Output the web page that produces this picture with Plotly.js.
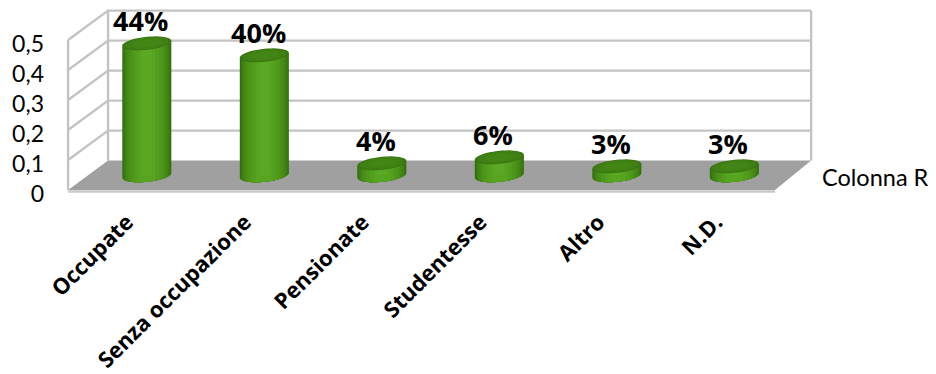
<!DOCTYPE html>
<html>
<head>
<meta charset="utf-8">
<script src="https://cdn.plot.ly/plotly-3.0.1.min.js"></script>
<style>html,body{margin:0;padding:0;background:#fff}</style>
</head>
<body>
<div id="chart" style="width:936px;height:374px"></div>
<script>
// Occupational status shares
const categories = ['Occupate', 'Senza occupazione', 'Pensionate', 'Studentesse', 'Altro', 'N.D.'];
const shares = [0.44, 0.40, 0.04, 0.06, 0.03, 0.03];
const valueTicks = [0, 0.1, 0.2, 0.3, 0.4, 0.5];
const seriesName = 'Colonna R';

// Oblique box: the front plane uses the axes directly, the back plane is
// offset sideways and lifted by a fixed amount.
const LIFT = 0.098, BACK_SHIFT = 0.3362, BACK_SCALE = 0.9944;
const U0 = -0.5, U1 = 5.5, TOP = 0.5;
const RX = 0.208, RY = 0.0217, TILT = 0.008;
const GRID = '#c3c3c3', FLOOR = '#a0a0a0';

function project(u, v, depth) {
  const back = BACK_SHIFT + BACK_SCALE * u;
  return [u + (back - u) * depth, v + LIFT * depth];
}
function pathOf(points, close) {
  return points.map((p, i) => (i ? 'L' : 'M') + p[0].toFixed(4) + ',' + p[1].toFixed(4)).join(' ') + (close ? ' Z' : '');
}
function polygon(points, fill) {
  return {type: 'path', xref: 'x', yref: 'y', layer: 'below', path: pathOf(points, true),
          fillcolor: fill, line: {width: 0}};
}
function rule(points, width, color) {
  return {type: 'path', xref: 'x', yref: 'y', layer: 'below', path: pathOf(points, false),
          line: {color: color || GRID, width: width || 2.4}};
}

const shapes = [];

// Floor with its lighter front edge
shapes.push(polygon([project(U0, 0, 0), project(U1, 0, 0), project(U1, 0, 1), project(U0, 0, 1)], FLOOR));
shapes.push(rule([[U0, -0.005], [U1, -0.005]], 2.6, '#c9c9c9'));

// Gridlines over the side and back walls
valueTicks.forEach(v => {
  if (v > 0) shapes.push(rule([project(U0, v, 0), project(U0, v, 1), project(U1, v, 1)]));
});
shapes.push(rule([project(U0, 0, 0), project(U0, TOP, 0)]));
shapes.push(rule([project(U0, 0, 1), project(U0, TOP, 1)]));
shapes.push(rule([project(U1, 0, 1), project(U1, TOP, 1)]));

// Cylinders: nested outlines running from the dark rim to the lit centre
const bodyShades = [[1, '#2f6c0c'], [0.97, '#36760f'], [0.92, '#3d7f12'], [0.85, '#438715'],
                    [0.76, '#498f18'], [0.65, '#4e971b'], [0.5, '#539e1e'], [0.34, '#57a421']];
const capShades = [[1, '#38750f'], [0.9, '#3f7f13'], [0.6, '#448616']];
const centres = shares.map((s, i) => project(i, 0, 0.5));

function ellipse(cx, cy, scale) {
  const pts = [];
  for (let k = 0; k < 48; k++) {
    const t = k / 48 * 2 * Math.PI;
    pts.push([cx + RX * scale * Math.cos(t), cy + RY * scale * Math.sin(t) + TILT * scale * Math.cos(t)]);
  }
  return pts;
}
function body(cx, baseY, topY, f) {
  const a = Math.acos(f), start = Math.PI + a, end = 2 * Math.PI - a, lower = [];
  for (let k = 0; k <= 24; k++) {
    const t = start + (end - start) * k / 24;
    lower.push([cx + RX * Math.cos(t), baseY + RY * Math.sin(t) + TILT * Math.cos(t)]);
  }
  return lower.concat([[cx + RX * f, topY + TILT * f], [cx - RX * f, topY - TILT * f]]);
}

shares.forEach((s, i) => {
  const [cx, baseY] = centres[i];
  bodyShades.forEach(([f, c]) => shapes.push(polygon(body(cx, baseY, baseY + s, f), c)));
  capShades.forEach(([f, c]) => {
    const cap = polygon(ellipse(cx, baseY + s, f), c);
    cap.layer = 'above';
    shapes.push(cap);
  });
});

const valueLabels = shares.map((s, i) => ({
  x: centres[i][0], y: centres[i][1] + s, xref: 'x', yref: 'y',
  text: '<b>' + Math.round(s * 100) + '%</b>', showarrow: false, xshift: -6, yshift: 23,
  font: {family: 'Open Sans, sans-serif', size: 27, color: '#000'}
}));
valueLabels.push({
  x: 1.0, y: 0.043, xref: 'paper', yref: 'y', xanchor: 'left', text: seriesName, showarrow: false,
  font: {family: 'Lato, sans-serif', size: 23.5, color: '#000'}
});

const coreTrace = {
  type: 'bar', name: seriesName,
  x: centres.map(c => c[0]), y: shares, base: centres.map(c => c[1]),
  width: 2 * RX * 0.2, marker: {color: '#5aa823', line: {width: 0}}, hoverinfo: 'skip'
};

Plotly.newPlot('chart', [coreTrace], {
  width: 936, height: 374, showlegend: false, separators: ',.',
  paper_bgcolor: '#fff', plot_bgcolor: 'rgba(0,0,0,0)',
  margin: {l: 60, r: 116, t: 4, b: 178, autoexpand: false},
  xaxis: {
    range: [-0.5686, 5.881], tickmode: 'array', tickvals: categories.map((c, i) => i), ticktext: categories,
    tickangle: -45, showgrid: false, zeroline: false, showline: false, ticks: '', ticklabelstandoff: 8,
    tickfont: {family: 'Open Sans, sans-serif', size: 22, color: '#000', weight: 700}
  },
  yaxis: {
    range: [-0.02, 0.62], tickmode: 'array', tickvals: valueTicks,
    showgrid: false, zeroline: false, showline: false, ticks: '', ticklabelstandoff: 15, ticklabelshift: 4,
    tickfont: {family: 'Lato, sans-serif', size: 23, color: '#000'}
  },
  shapes: shapes,
  annotations: valueLabels
}, {displayModeBar: false, staticPlot: true});
</script>
</body>
</html>
